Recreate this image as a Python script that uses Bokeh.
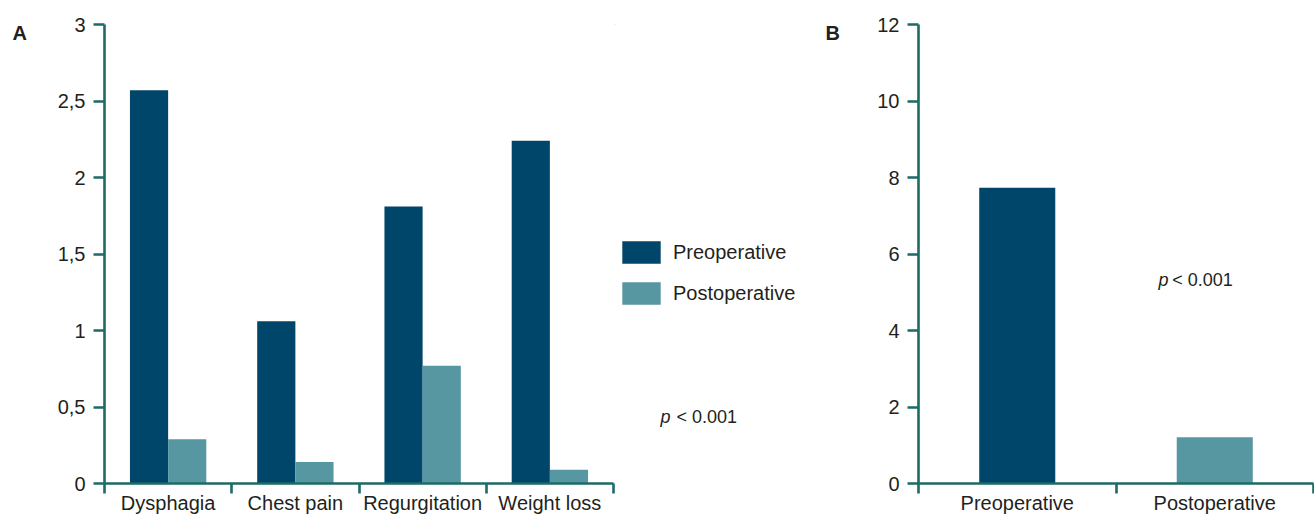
import numpy as np
from bokeh.plotting import figure
from bokeh.models import Range1d, FixedTicker, Legend, LegendItem, Label
from bokeh.layouts import row
from bokeh.embed import file_html
from bokeh.resources import INLINE

# ---- data ----
symptoms = ["Dysphagia", "Chest pain", "Regurgitation", "Weight loss"]
pre_scores = [2.57, 1.06, 1.81, 2.24]
post_scores = [0.29, 0.14, 0.77, 0.09]
series_names = ["Preoperative", "Postoperative"]
total_labels = ["Preoperative", "Postoperative"]
total_scores = [7.73, 1.21]
ytick_a = [0, 0.5, 1, 1.5, 2, 2.5, 3]
ytick_a_labels = ["0", "0,5", "1", "1,5", "2", "2,5", "3"]
ytick_b = [0, 2, 4, 6, 8, 10, 12]
p_text = "< 0.001"

# ---- style ----
PRE = "#00456a"
POST = "#5697a2"
AX = "#1d6a66"
TXT = "#231f20"
FONT = "Liberation Sans"
FS = "20px"
H = 516
TOP = 24      # frame top (px)
BOT = 483     # frame bottom (px)


def style_axes(p):
    for ax in (p.xaxis[0], p.yaxis[0]):
        ax.axis_line_color = AX
        ax.axis_line_width = 2.6
        ax.major_tick_line_color = AX
        ax.major_tick_line_width = 2.6
        ax.minor_tick_line_color = AX
        ax.minor_tick_line_width = 2.6
        ax.major_label_text_font = FONT
        ax.major_label_text_font_size = FS
        ax.major_label_text_color = TXT
    p.yaxis.major_tick_out = 11
    p.yaxis.major_tick_in = 0
    p.yaxis.minor_tick_line_color = None
    p.yaxis.major_label_standoff = 8
    p.xaxis.major_tick_out = 0
    p.xaxis.major_tick_in = 0
    p.xaxis.major_tick_line_color = None
    p.xaxis.minor_tick_out = 10
    p.xaxis.minor_tick_in = 0
    p.xaxis.major_label_standoff = -2
    p.grid.visible = False
    p.outline_line_color = None


def blank(width, x0):
    # plain canvas whose data coordinates are page pixels (frame aligned to TOP..BOT)
    p = figure(width=width, height=H, x_range=Range1d(x0, x0 + width), y_range=Range1d(BOT, TOP),
               x_axis_type=None, y_axis_type=None, output_backend="svg",
               toolbar_location=None, min_border_left=0, min_border_right=0,
               min_border_top=TOP, min_border_bottom=H - BOT)
    p.outline_line_color = None
    p.grid.visible = False
    return p


# ---- panel letter A ----
p0 = blank(40, 0)
p0.add_layout(Label(x=12, y=32, text="A", text_font=FONT, text_font_size="20px",
                    text_font_style="bold", text_color=TXT, text_baseline="alphabetic"))

# ---- panel A ----
n = len(symptoms)
pa = figure(width=575, height=H, x_range=Range1d(0, n), y_range=Range1d(0, 3),
            output_backend="svg", toolbar_location=None,
            min_border_left=64, min_border_right=2, min_border_top=TOP, min_border_bottom=30)
centers = np.arange(n) + 0.5
pa.vbar(x=centers - 0.15, top=pre_scores, width=0.3, fill_color=PRE, line_color=None)
pa.vbar(x=centers + 0.15, top=post_scores, width=0.3, fill_color=POST, line_color=None)
pa.xaxis.ticker = FixedTicker(ticks=list(centers), minor_ticks=list(range(n + 1)))
pa.xaxis.major_label_overrides = {float(c): s for c, s in zip(centers, symptoms)}
pa.yaxis.ticker = FixedTicker(ticks=ytick_a)
pa.yaxis.major_label_overrides = {t: l for t, l in zip(ytick_a, ytick_a_labels)}
style_axes(pa)

# ---- middle: legend, p value, letter B ----
pm = blank(235, 615)
# zero-height proxies (outside the visible range) that only give the legend its swatches
r_pre = pm.vbar(x=[0], top=[0], width=1, fill_color=PRE, line_color=None)
r_post = pm.vbar(x=[0], top=[0], width=1, fill_color=POST, line_color=None)
legend = Legend(items=[LegendItem(label=series_names[0], renderers=[r_pre]),
                       LegendItem(label=series_names[1], renderers=[r_post])],
                location=(2, BOT - 307), margin=0, padding=0, spacing=13,
                glyph_width=48, glyph_height=28, label_height=28, label_standoff=8,
                label_text_font=FONT, label_text_font_size=FS, label_text_color=TXT,
                border_line_color=None, background_fill_alpha=0)
pm.add_layout(legend)
pm.add_layout(Label(x=660, y=416, text="p", text_font=FONT, text_font_size="18px",
                    text_font_style="italic", text_color=TXT, text_baseline="alphabetic"))
pm.add_layout(Label(x=676, y=416, text=p_text, text_font=FONT, text_font_size="18px",
                    text_color=TXT, text_baseline="alphabetic"))
pm.add_layout(Label(x=825, y=32, text="B", text_font=FONT, text_font_size="20px",
                    text_font_style="bold", text_color=TXT, text_baseline="alphabetic"))

# ---- panel B ----
m = len(total_labels)
pb = figure(width=464, height=H, x_range=Range1d(0, m), y_range=Range1d(0, 12),
            output_backend="svg", toolbar_location=None,
            min_border_left=68, min_border_right=1, min_border_top=TOP, min_border_bottom=30)
bcenters = np.arange(m) + 0.5
pb.vbar(x=bcenters, top=total_scores, width=0.385, fill_color=[PRE, POST], line_color=None)
pb.xaxis.ticker = FixedTicker(ticks=list(bcenters), minor_ticks=list(range(m + 1)))
pb.xaxis.major_label_overrides = {float(c): s for c, s in zip(bcenters, total_labels)}
pb.yaxis.ticker = FixedTicker(ticks=ytick_b)
style_axes(pb)

pb.add_layout(Label(x=1.215, y=5.05, text="p", text_font=FONT, text_font_size="18px",
                    text_font_style="italic", text_color=TXT))
pb.add_layout(Label(x=1.285, y=5.05, text=p_text, text_font=FONT, text_font_size="18px",
                    text_color=TXT))

layout = row(p0, pa, pm, pb)
open("out.html", "w").write(file_html(layout, INLINE))
